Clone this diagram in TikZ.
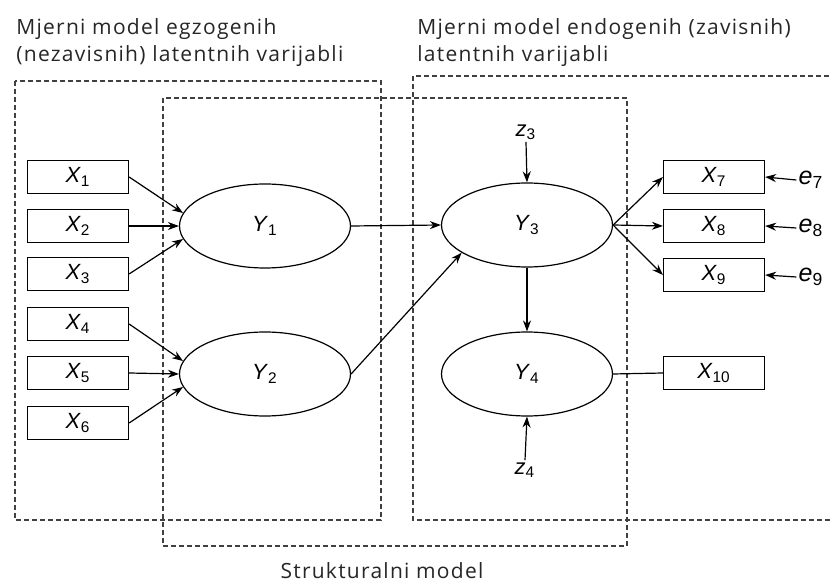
\documentclass[tikz,border=0pt]{standalone}
\usepackage{fontspec}
\setmainfont{Liberation Sans}
\newfontfamily\headfont[LetterSpace=6]{Open Sans}
\usetikzlibrary{arrows.meta,shapes.geometric}

\newcommand{\vx}[2]{\textit{#1}\textsubscript{#2}}

\tikzset{
  obs/.style={draw, line width=0.6pt, minimum width=50.5pt, minimum height=16.5pt, inner sep=0pt,
    font=\fontsize{11}{12}\selectfont},
  lat/.style={draw, ellipse, line width=0.6pt, minimum width=85.5pt, minimum height=42pt, inner sep=0pt,
    font=\fontsize{11}{12}\selectfont},
  err/.style={inner sep=1pt, font=\fontsize{11}{12}\selectfont},
  area/.style={draw=black!75, dash pattern=on 2.5pt off 1.5pt, line width=0.55pt},
  path/.style={-{Stealth[length=5.5pt,width=4pt]}, line width=0.6pt},
  head/.style={font=\headfont\fontsize{10.5}{13.5}\selectfont, text=black!85, align=left, inner sep=0pt},
}

\begin{document}
\begin{tikzpicture}[x=0.5pt,y=-0.5pt]
\clip (0,0) rectangle (831,582);

% dashed areas
\draw[area] (15,81) rectangle (381,520);
\draw[area] (163,98) rectangle (627,546);
\draw[area] (413,76) rectangle (845,520);

% headings
\node[head, anchor=north west] (hexo) at (16,18) {Mjerni model egzogenih\\(nezavisnih) latentnih varijabli};
\node[head, anchor=north west] (hendo) at (417,18) {Mjerni model endogenih (zavisnih)\\latentnih varijabli};
\node[head, anchor=base] (hstr) at (382,579) {Strukturalni model};

% exogenous indicators
\node[obs] (x1) at (78,177) {\vx{X}{1}};
\node[obs] (x2) at (78,226) {\vx{X}{2}};
\node[obs] (x3) at (78,274) {\vx{X}{3}};
\node[obs] (x4) at (78,324) {\vx{X}{4}};
\node[obs] (x5) at (78,373) {\vx{X}{5}};
\node[obs] (x6) at (78,423) {\vx{X}{6}};

% latent variables
\node[lat] (y1) at (265,226) {\vx{Y}{1}};
\node[lat] (y2) at (265,374) {\vx{Y}{2}};
\node[lat] (y3) at (527,225) {\vx{Y}{3}};
\node[lat] (y4) at (527,374) {\vx{Y}{4}};

% endogenous indicators
\node[obs] (x7) at (714,177) {\vx{X}{7}};
\node[obs] (x8) at (714,226) {\vx{X}{8}};
\node[obs] (x9) at (714,275) {\vx{X}{9}};
\node[obs] (x10) at (714,373) {\vx{X}{10}};

% disturbances and errors
\node[err] (z3) at (526,132) {\vx{z}{3}};
\node[err] (z4) at (525,470) {\vx{z}{4}};
\node[err, font=\fontsize{12.5}{13}\selectfont] (e7) at (811,180) {\vx{e}{7}};
\node[err, font=\fontsize{12.5}{13}\selectfont] (e8) at (811,228) {\vx{e}{8}};
\node[err, font=\fontsize{12.5}{13}\selectfont] (e9) at (811,277) {\vx{e}{9}};

% paths
\draw[path] (x1.east) -- (y1.171);
\draw[path] (x2.east) -- (y1.west);
\draw[path] (x3.east) -- (y1.189);
\draw[path] (x4.east) -- (y2.171);
\draw[path] (x5.east) -- (y2.west);
\draw[path] (x6.east) -- (y2.189);
\draw[path] (y1.east) -- (y3.west);
\draw[path] (y2.east) -- (y3.203);
\draw[path] (y3.south) -- (y4.north);
\draw[path] (y3.east) -- (x7.west);
\draw[path] (y3.east) -- (x8.west);
\draw[path] (y3.east) -- (x9.west);
\draw[line width=0.6pt] (y4.east) -- (x10.west);
\draw[path] (z3.south) -- (y3.north);
\draw[path] (z4.north) -- (y4.south);
\draw[path] (e7.west) -- (x7.east);
\draw[path] (e8.west) -- (x8.east);
\draw[path] (e9.west) -- (x9.east);
\end{tikzpicture}
\end{document}
